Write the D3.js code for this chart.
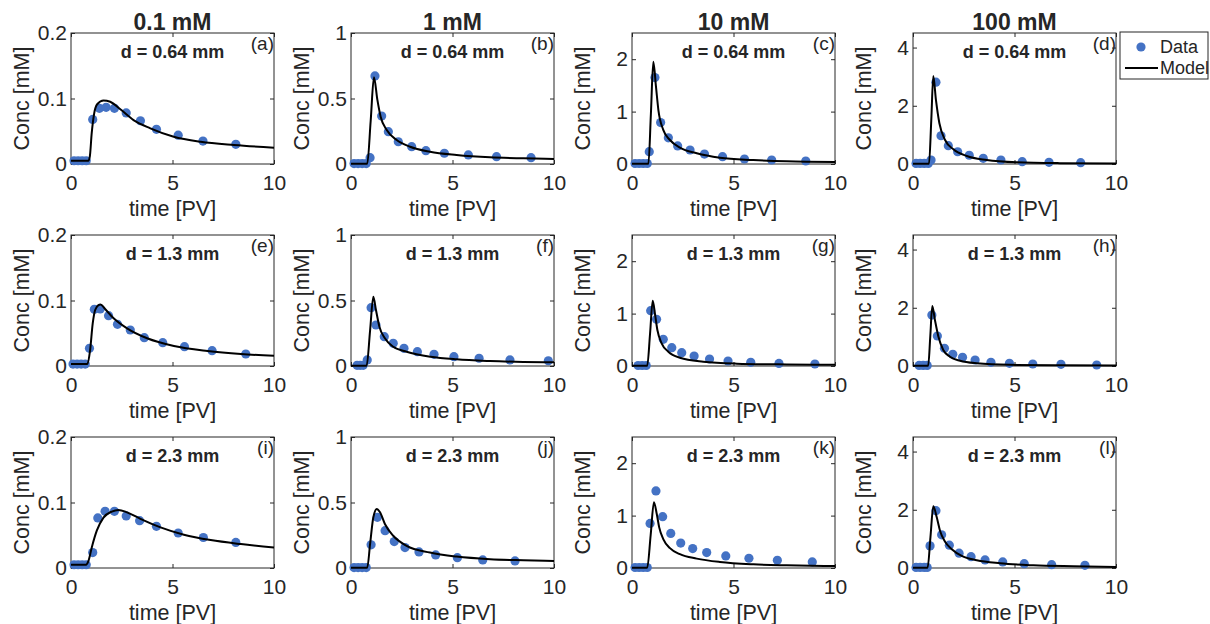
<!DOCTYPE html>
<html>
<head>
<meta charset="utf-8">
<script src="https://cdn.jsdelivr.net/npm/d3@7"></script>
<style>
  body { margin: 0; background: #fff; }
  text { font-family: "Liberation Sans", Arial, sans-serif; fill: #262626; }
</style>
</head>
<body>
<div id="chart"></div>
<script>
var columnTitles = ["0.1 mM", "1 mM", "10 mM", "100 mM"];
var rowLabels = ["d = 0.64 mm", "d = 1.3 mm", "d = 2.3 mm"];
var panelLetters = ["(a)", "(b)", "(c)", "(d)", "(e)", "(f)", "(g)", "(h)", "(i)", "(j)", "(k)", "(l)"];
var yMax = [0.2, 1, 2.5, 4.5];
var yTicks = [[0, 0.1, 0.2], [0, 0.5, 1], [0, 1, 2], [0, 2, 4]];
var xTicks = [0, 5, 10];

// measured points [time, conc]
var dataA = [[0.15,0.005],[0.35,0.005],[0.55,0.005],[0.75,0.005],[1.07,0.068],[1.40,0.085],[1.73,0.0865],[2.14,0.085],[2.72,0.078],[3.42,0.066],[4.21,0.053],[5.28,0.044],[6.5,0.035],[8.12,0.030]];
var dataB = [[0.15,0.003],[0.35,0.003],[0.55,0.003],[0.75,0.003],[0.94,0.048],[1.18,0.672],[1.51,0.366],[1.84,0.247],[2.33,0.170],[2.99,0.132],[3.69,0.102],[4.6,0.082],[5.78,0.069],[7.17,0.056],[8.87,0.048]];
var dataC = [[0.15,0.01],[0.35,0.01],[0.55,0.01],[0.75,0.01],[0.85,0.235],[1.13,1.65],[1.41,0.79],[1.79,0.50],[2.25,0.344],[2.86,0.267],[3.57,0.19],[4.46,0.14],[5.54,0.095],[6.88,0.076],[8.56,0.057]];
var dataD = [[0.15,0.02],[0.35,0.02],[0.55,0.02],[0.75,0.02],[0.89,0.137],[1.13,2.81],[1.38,0.97],[1.74,0.63],[2.2,0.42],[2.77,0.30],[3.46,0.195],[4.33,0.137],[5.38,0.08],[6.7,0.058],[8.26,0.045]];
var dataE = [[0.1,0.003],[0.3,0.003],[0.5,0.003],[0.7,0.003],[0.91,0.027],[1.15,0.0866],[1.44,0.087],[1.85,0.0768],[2.29,0.0636],[2.92,0.055],[3.61,0.0432],[4.52,0.0356],[5.59,0.0295],[6.95,0.0234],[8.61,0.0183]];
var dataF = [[0.3,0.005],[0.45,0.005],[0.6,0.005],[0.80,0.046],[0.99,0.445],[1.23,0.313],[1.64,0.224],[2.08,0.173],[2.61,0.135],[3.27,0.109],[4.09,0.089],[5.07,0.071],[6.31,0.059],[7.83,0.046],[9.72,0.04]];
var dataG = [[0.3,0.01],[0.5,0.01],[0.7,0.01],[0.92,1.055],[1.21,0.89],[1.54,0.51],[1.96,0.35],[2.45,0.254],[3.06,0.19],[3.82,0.134],[4.73,0.095],[5.85,0.07],[7.24,0.05],[9.01,0.038]];
var dataH = [[0.3,0.02],[0.5,0.02],[0.7,0.02],[0.93,1.75],[1.2,1.03],[1.55,0.61],[1.96,0.40],[2.44,0.30],[3.06,0.206],[3.84,0.126],[4.75,0.092],[5.9,0.069],[7.29,0.058],[9.05,0.034]];
var dataI = [[0.15,0.005],[0.35,0.005],[0.55,0.005],[0.75,0.005],[1.07,0.0235],[1.32,0.0765],[1.68,0.0866],[2.14,0.0866],[2.72,0.0795],[3.38,0.0723],[4.21,0.0636],[5.28,0.0534],[6.52,0.0466],[8.12,0.039]];
var dataJ = [[0.15,0.003],[0.35,0.003],[0.55,0.003],[0.75,0.003],[0.99,0.177],[1.3,0.387],[1.68,0.285],[2.13,0.202],[2.66,0.156],[3.35,0.123],[4.17,0.10],[5.24,0.079],[6.49,0.0615],[8.08,0.054]];
var dataK = [[0.15,0.01],[0.35,0.01],[0.55,0.01],[0.75,0.01],[0.89,0.85],[1.18,1.47],[1.51,0.98],[1.91,0.66],[2.4,0.475],[2.99,0.37],[3.68,0.295],[4.62,0.23],[5.76,0.186],[7.16,0.147],[8.88,0.115]];
var dataL = [[0.15,0.02],[0.35,0.02],[0.55,0.02],[0.7,0.02],[0.84,0.76],[1.13,1.97],[1.41,1.14],[1.79,0.785],[2.27,0.508],[2.86,0.39],[3.55,0.277],[4.42,0.208],[5.48,0.149],[6.83,0.114],[8.47,0.093]];

// model curves [time, conc]
var modelA = [[0,0.005],[0.86,0.005],[0.93,0.012],[1.02,0.047],[1.14,0.077],[1.30,0.0916],[1.6,0.097],[1.93,0.095],[2.43,0.0835],[3.08,0.067],[3.91,0.0545],[5.06,0.0417],[6.39,0.034],[8.03,0.029],[10,0.0249]];
var modelB = [[0,0.002],[0.8,0.002],[0.97,0.33],[1.13,0.662],[1.30,0.489],[1.46,0.361],[1.76,0.26],[2.25,0.183],[2.91,0.132],[3.89,0.094],[5.2,0.069],[6.85,0.051],[8.49,0.043],[10,0.038]];
var modelC = [[0,0.005],[0.81,0.005],[0.93,0.95],[1.05,1.95],[1.18,1.48],[1.3,1.03],[1.54,0.65],[1.87,0.458],[2.36,0.311],[3.19,0.204],[4.33,0.12],[5.98,0.076],[7.62,0.051],[10,0.038]];
var modelD = [[0,0.01],[0.79,0.01],[0.9,1.5],[1.0,3.02],[1.13,2.2],[1.3,1.40],[1.58,0.825],[1.99,0.505],[2.65,0.275],[3.63,0.137],[5.11,0.058],[7.24,0.03],[10,0.02]];
var modelE = [[0,0.003],[0.81,0.003],[0.94,0.024],[1.07,0.065],[1.19,0.0855],[1.35,0.093],[1.45,0.094],[1.68,0.087],[2.1,0.0728],[2.76,0.0575],[3.75,0.0423],[5.07,0.0305],[6.72,0.0229],[8.37,0.0183],[10,0.0157]];
var modelF = [[0,0.002],[0.77,0.002],[0.94,0.27],[1.10,0.529],[1.23,0.427],[1.4,0.30],[1.67,0.211],[2.08,0.147],[2.74,0.109],[3.92,0.071],[5.2,0.051],[6.85,0.038],[8.49,0.031],[10,0.028]];
var modelG = [[0,0.005],[0.75,0.005],[0.89,0.62],[1.02,1.246],[1.13,1.0],[1.25,0.687],[1.46,0.433],[1.79,0.273],[2.36,0.158],[3.51,0.082],[5.16,0.045],[7.62,0.03],[10,0.025]];
var modelH = [[0,0.01],[0.75,0.01],[0.85,1.0],[0.95,2.06],[1.08,1.58],[1.25,1.01],[1.49,0.55],[1.82,0.32],[2.32,0.18],[3.14,0.093],[4.78,0.04],[7.24,0.025],[10,0.02]];
var modelI = [[0,0.005],[0.74,0.005],[0.86,0.0108],[1.02,0.031],[1.27,0.057],[1.6,0.077],[2.01,0.0862],[2.34,0.0887],[2.76,0.085],[3.42,0.075],[4.41,0.062],[5.56,0.0508],[6.88,0.0426],[8.37,0.0365],[10,0.0313]];
var modelJ = [[0,0.002],[0.8,0.002],[0.94,0.182],[1.1,0.387],[1.27,0.451],[1.43,0.425],[1.67,0.336],[2.08,0.246],[2.74,0.169],[3.89,0.118],[5.2,0.087],[6.85,0.067],[8.49,0.059],[10,0.054]];
var modelK = [[0,0.005],[0.75,0.005],[0.92,0.63],[1.08,1.256],[1.22,1.03],[1.34,0.775],[1.54,0.552],[1.87,0.379],[2.36,0.263],[3.19,0.179],[4.33,0.115],[5.98,0.071],[7.62,0.052],[10,0.038]];
var modelL = [[0,0.01],[0.72,0.01],[0.86,1.06],[1.0,2.12],[1.17,1.74],[1.33,1.28],[1.58,0.9],[1.91,0.647],[2.4,0.415],[3.14,0.266],[4.29,0.162],[5.93,0.093],[7.9,0.059],[10,0.035]];

var panelData = [dataA, dataB, dataC, dataD, dataE, dataF, dataG, dataH, dataI, dataJ, dataK, dataL];
var panelModel = [modelA, modelB, modelC, modelD, modelE, modelF, modelG, modelH, modelI, modelJ, modelK, modelL];

var colLeft = [71, 351, 632, 913],
  rowTop = [33, 235, 437],
  plotW = 203,
  plotH = 131;

var dotColor = "#4472C4",
  axisColor = "#262626";

var svg = d3.select("#chart").append("svg")
  .attr("width", 1210)
  .attr("height", 624);

panelData.forEach(function (pts, i) {
  var col = i % 4,
    row = Math.floor(i / 4);

  var x = d3.scaleLinear().domain([0, 10]).range([0, plotW]);
  var y = d3.scaleLinear().domain([0, yMax[col]]).range([plotH, 0]);

  var g = svg.append("g")
    .attr("transform", "translate(" + colLeft[col] + "," + rowTop[row] + ")");

  var fmt = d3.format("~g");

  var ax = g.append("g")
    .attr("transform", "translate(0," + plotH + ")")
    .call(d3.axisBottom(x).tickValues(xTicks).tickSize(-4).tickPadding(11).tickFormat(fmt));
  var ay = g.append("g")
    .call(d3.axisLeft(y).tickValues(yTicks[col]).tickSize(-4).tickPadding(4).tickFormat(fmt));
  var at = g.append("g")
    .call(d3.axisTop(x).tickValues(xTicks).tickSize(-4).tickFormat(""));
  var ar = g.append("g")
    .attr("transform", "translate(" + plotW + ",0)")
    .call(d3.axisRight(y).tickValues(yTicks[col]).tickSize(-4).tickFormat(""));

  [ax, ay, at, ar].forEach(function (a) {
    a.select(".domain").remove();
    a.selectAll(".tick line").attr("stroke", axisColor);
    a.selectAll(".tick text")
      .attr("font-size", 21)
      .attr("fill", axisColor)
      .style("font-family", "'Liberation Sans', Arial, sans-serif");
  });

  g.append("rect")
    .attr("width", plotW)
    .attr("height", plotH)
    .attr("fill", "none")
    .attr("stroke", axisColor)
    .attr("stroke-width", 1);

  // axis labels
  g.append("text")
    .attr("transform", "translate(-50," + (plotH / 2) + ") rotate(-90)")
    .attr("text-anchor", "middle")
    .attr("dy", "0.35em")
    .attr("font-size", 21.5)
    .text("Conc [mM]");

  g.append("text")
    .attr("x", plotW / 2)
    .attr("y", plotH + 52)
    .attr("text-anchor", "middle")
    .attr("font-size", 21.5)
    .text("time [PV]");

  if (row == 0) {
    g.append("text")
      .attr("x", plotW / 2)
      .attr("y", -3)
      .attr("text-anchor", "middle")
      .attr("font-size", 23)
      .attr("font-weight", "bold")
      .attr("fill", "#000")
      .text(columnTitles[col]);
  }

  g.append("text")
    .attr("x", plotW / 2)
    .attr("y", 25)
    .attr("text-anchor", "middle")
    .attr("font-size", 18)
    .attr("font-weight", "bold")
    .attr("fill", "#000")
    .text(rowLabels[row]);

  g.append("text")
    .attr("x", plotW)
    .attr("y", 17)
    .attr("text-anchor", "end")
    .attr("font-size", 19)
    .attr("fill", "#000")
    .text(panelLetters[i]);

  g.selectAll(".dot")
    .data(pts)
    .enter().append("circle")
    .attr("class", "dot")
    .attr("cx", function (d) { return x(d[0]); })
    .attr("cy", function (d) { return y(d[1]); })
    .attr("r", 4.6)
    .attr("fill", dotColor);

  var line = d3.line()
    .x(function (d) { return x(d[0]); })
    .y(function (d) { return y(d[1]); })
    .curve(d3.curveMonotoneX);

  g.append("path")
    .datum(panelModel[i])
    .attr("d", line)
    .attr("fill", "none")
    .attr("stroke", "#000")
    .attr("stroke-width", 2);
});

// legend
var leg = svg.append("g").attr("transform", "translate(1120,32)");
leg.append("rect")
  .attr("width", 88)
  .attr("height", 47)
  .attr("fill", "#fff")
  .attr("stroke", axisColor)
  .attr("stroke-width", 1);
leg.append("circle")
  .attr("cx", 21)
  .attr("cy", 15)
  .attr("r", 4.6)
  .attr("fill", dotColor);
leg.append("text")
  .attr("x", 40)
  .attr("y", 15)
  .attr("dy", "0.35em")
  .attr("font-size", 18)
  .attr("fill", "#000")
  .text("Data");
leg.append("line")
  .attr("x1", 5)
  .attr("x2", 38)
  .attr("y1", 36)
  .attr("y2", 36)
  .attr("stroke", "#000")
  .attr("stroke-width", 2);
leg.append("text")
  .attr("x", 40)
  .attr("y", 36)
  .attr("dy", "0.35em")
  .attr("font-size", 18)
  .attr("fill", "#000")
  .text("Model");
</script>
</body>
</html>
